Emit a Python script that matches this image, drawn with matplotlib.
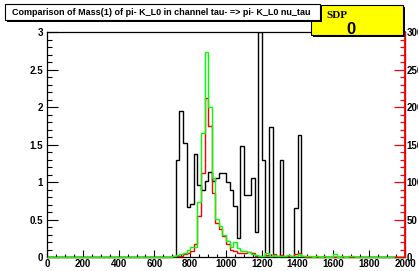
import numpy as np
import matplotlib
matplotlib.use('Agg')
import matplotlib.pyplot as plt
from matplotlib.patches import Rectangle

plt.rcParams['font.family'] = ['Liberation Sans', 'DejaVu Sans']
plt.rcParams['font.weight'] = 'bold'

# 100 bins of width 20 between 0 and 2000
edges = np.arange(0, 2001, 20)

# black histogram (left axis), bins starting at 700
black_start = 700
black_vals = [0, 1.30, 1.95, 1.52, 0.67, 0.71, 1.38, 0.96, 0.89, 1.01, 1.14, 1.01,
              1.05, 1.12, 1.12, 1.00, 0.89, 0.68, 0.25, 1.48, 0.83, 0.83, 1.05, 0.34,
              3.0, 1.30, 0, 1.73, 0, 0, 1.30, 0, 0, 0, 0.66, 1.63]

# red / green histograms (right axis, 0-300), bins starting at 700
red_start = 700
red_vals = [1, 2, 2, 4, 6, 8, 17, 55, 112, 212, 175, 85, 45, 37, 28, 18, 10, 8, 6, 5,
            5, 7, 5, 2, 1, 1, 3, 1, 4, 1, 3, 2, 1, 1, 4, 5, 1]
green_start = 700
green_vals = [2, 3, 4, 6, 9, 13, 14, 74, 165, 274, 200, 105, 51, 42, 30, 21, 14, 20, 12,
              8, 8, 7, 4, 3, 2, 2, 6, 2, 3, 1, 2, 1, 3, 1, 2, 4, 2, 1, 1, 0, 1, 0, 1, 0,
              0, 4, 0, 1, 0, 2, 1]

x_ticks = [0, 200, 400, 600, 800, 1000, 1200, 1400, 1600, 1800, 2000]
y_ticks = [0, 0.5, 1, 1.5, 2, 2.5, 3]
y_labels = ['0', '0.5', '1', '1.5', '2', '2.5', '3']
y2_ticks = [0, 50, 100, 150, 200, 250, 300]

title = 'Comparison of Mass(1) of pi- K_L0 in channel tau- => pi- K_L0 nu_tau'


def full(start, vals):
    h = np.zeros(len(edges) - 1)
    i = start // 20
    h[i:i + len(vals)] = vals
    return h


W, H = 418, 271
fig = plt.figure(figsize=(W / 100, H / 100), dpi=100)

# plot frame in pixels: x 47..405, y 32..257
ax = fig.add_axes([47 / W, 1 - 257 / H, 358 / W, 225 / H])
ax.stairs(full(black_start, black_vals), edges, color='black', lw=1.0)
ax.set_xlim(0, 2000)
ax.set_ylim(0, 3)
ax.set_xticks(x_ticks)
ax.set_xticks(np.arange(0, 2001, 50), minor=True)
ax.set_yticks(y_ticks)
ax.set_yticklabels(y_labels)
ax.set_yticks(np.arange(0, 3.01, 0.1), minor=True)
ax.tick_params(axis='x', which='major', direction='in', length=4.9, width=0.8, labelsize=7, pad=1.5)
ax.tick_params(axis='x', which='minor', direction='in', length=2.4, width=0.8)
ax.tick_params(axis='y', which='major', direction='in', length=7.7, width=0.8, labelsize=7, pad=3)
ax.tick_params(axis='y', which='minor', direction='in', length=3.8, width=0.8)
for s in ax.spines.values():
    s.set_linewidth(0.9)

ax2 = ax.twinx()
ax2.stairs(full(red_start, red_vals), edges, color='red', lw=1.0, clip_on=False)
ax2.stairs(full(green_start, green_vals), edges, color='#00ff00', lw=1.0, clip_on=False)
ax2.set_ylim(0, 300)
ax2.set_yticks(y2_ticks)
ax2.set_yticks(np.arange(0, 301, 10), minor=True)
ax2.tick_params(axis='y', which='major', direction='in', length=7.7, width=0.9, color='red',
                labelsize=7, pad=1)
ax2.tick_params(axis='y', which='minor', direction='in', length=3.8, width=0.9, color='red')
for k in ['top', 'bottom', 'left']:
    ax2.spines[k].set_visible(False)
ax2.spines['right'].set_color('red')
ax2.spines['right'].set_linewidth(1.3)


def box(x, y, w, h, fc, z, sh):
    # shadow then box, pixel coords from top-left
    fig.add_artist(Rectangle(((x + sh) / W, 1 - (y + h + sh) / H), w / W, h / H,
                             transform=fig.transFigure, fc='black', ec='none', zorder=z))
    fig.add_artist(Rectangle((x / W, 1 - (y + h) / H), w / W, h / H,
                             transform=fig.transFigure, fc=fc, ec='black', lw=0.8, zorder=z + 0.1))


box(311, 5, 92, 30, '#ffff00', 5, 2)
fig.text(326 / W, 1 - 15 / H, 'SDP', family='Liberation Serif', weight='bold', fontsize=8,
         va='center', ha='left', zorder=6)
fig.text(351 / W, 1 - 29 / H, '0', weight='bold', fontsize=12, va='center', ha='center', zorder=6)

box(5, 4, 315, 16, 'white', 7, 1.5)
fig.text(12 / W, 1 - 12.5 / H, title, weight='bold', fontsize=6.5, va='center', ha='left', zorder=8)

fig.savefig('out.png', dpi=100)
